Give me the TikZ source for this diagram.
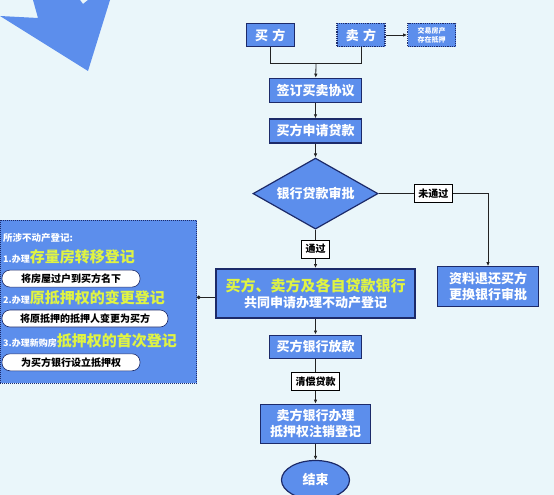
\documentclass[tikz,border=0pt]{standalone}
\usepackage{fontspec}
\setmainfont{Noto Sans CJK SC}
\usepackage{xcolor}
\usepackage{tikz}
\usetikzlibrary{shapes}
\usetikzlibrary{shapes.geometric}
\usetikzlibrary{positioning, fit, arrows.meta}

\definecolor{boxblue}{RGB}{92,142,236}
\definecolor{boxline}{RGB}{28,42,105}
\definecolor{hilite}{RGB}{224,244,66}
\definecolor{bgcyan}{RGB}{234,246,250}
\definecolor{wire}{RGB}{35,35,35}

\tikzset{
  flowbox/.style={draw=boxline, line width=1.2pt, fill=boxblue, text=white, font=\bfseries\fontsize{13}{16}\selectfont, align=center, inner sep=0pt},
  tagbox/.style={draw=black, line width=0.6pt, fill=white, text=black, font=\bfseries\fontsize{10}{12}\selectfont, inner xsep=4pt, inner ysep=0pt, minimum height=18pt},
  pillbox/.style={draw=boxline, line width=0.6pt, fill=white, rounded corners=8pt, text=black, font=\bfseries\fontsize{10}{12}\selectfont, minimum height=17pt, inner sep=0pt},
  paneltext/.style={anchor=west, text=white, inner sep=0pt, font=\bfseries\fontsize{9}{11}\selectfont},
  wireline/.style={wire, line width=0.8pt},
}
\newcommand{\bigpart}[1]{{\color{hilite}\fontsize{15}{18}\selectfont #1}}

\begin{document}
\begin{tikzpicture}[x=1pt, y=-1pt, >={Latex[length=4pt,width=3.5pt]}]
\fill[bgcyan] (0,0) rectangle (554,495);
\useasboundingbox (0,0) rectangle (554,495);
\fill[boxblue] (0,16) -- (38,18) -- (33,0) -- (80,0) -- (83,4) -- (88,0) -- (110,0) -- (88,71) -- cycle;

\node[flowbox, minimum width=48pt, minimum height=23.5pt] (buyer) at (270.3,35) {买\,\,方};
\node[flowbox, densely dotted, minimum width=48pt, minimum height=23.5pt] (seller) at (361,35) {卖\,\,方};
\node[flowbox, densely dotted, minimum width=48pt, minimum height=23.5pt, font=\bfseries\fontsize{7}{9}\selectfont] (note) [right=21.5pt of seller] {交易房产\\存在抵押};
\node[flowbox, minimum width=92pt, minimum height=24pt] (sign) at (315.5,90.3) {签订买卖协议};
\node[flowbox, minimum width=92pt, minimum height=24pt] (apply) [below=15.4pt of sign] {买方申请贷款};
\node[flowbox, diamond, aspect=1.7, minimum width=125pt, minimum height=71pt] (approve) [below=14pt of apply] {银行贷款审批};
\node[flowbox, line width=1.5pt, minimum width=199pt, minimum height=49.3pt] (joint) [below=38.3pt of approve] {\bigpart{买方、卖方及各自贷款银行}\\共同申请办理不动产登记};
\node[flowbox, minimum width=92pt, minimum height=23.3pt] (loan) [below=15.7pt of joint] {买方银行放款};
\node[flowbox, minimum width=110pt, minimum height=39pt] (cancel) [below=44.7pt of loan] {卖方银行办理\\抵押权注销登记};
\node[flowbox, ellipse, minimum width=68pt, minimum height=39pt] (finish) [below=16pt of cancel] {结束};
\node[flowbox, minimum width=100.6pt, minimum height=40pt] (refund) at (488,286.7) {资料退还买方\\更换银行审批};

\node[fill=boxblue, draw=boxline, densely dotted, line width=1pt, minimum width=196.5pt, minimum height=163.3pt, inner sep=0pt] (info_panel) at (98.25,301.7) {};
\node[paneltext, font=\bfseries\fontsize{9.5}{11}\selectfont] (info_title) at (3,238) {所涉不动产登记:};
\node[paneltext] (info_one) at (3,257) {1.办理\bigpart{存量房转移登记}};
\node[pillbox, minimum width=138pt] (pill_one) at (71,278.6) {将房屋过户到买方名下};
\node[paneltext] (info_two) at (3,298) {2.办理\bigpart{原抵押权的变更登记}};
\node[pillbox, minimum width=166pt] (pill_two) at (85,318.5) {将原抵押的抵押人变更为买方};
\node[paneltext] (info_three) at (3,341) {3.办理新购房\bigpart{抵押权的首次登记}};
\node[pillbox, minimum width=138pt] (pill_three) at (71,362.3) {为买方银行设立抵押权};

\coordinate (merge) at (316,63.3);
\draw[wireline] (buyer) |- (merge);
\draw[wireline] (seller) |- (merge);
\draw[wireline, ->] (merge) -- (sign);
\draw[wireline, ->] (seller) -- (note);
\draw[wireline, ->] (sign) -- (apply);
\draw[wireline, ->] (apply) -- (approve);
\draw[wireline, ->] (approve) -- node[tagbox] {通过} (joint);
\draw[wireline, ->] (approve) -| node[tagbox, pos=0.25] {未通过} (refund);
\draw[wireline, ->] (joint) -- (loan);
\draw[wireline, ->] (loan) -- node[tagbox] {清偿贷款} (cancel);
\draw[wireline, ->] (cancel) -- (finish);
\draw[wireline, -{Circle[length=3.5pt]}] ([yshift=-4pt]joint.west) -- ([yshift=-4pt]joint.west -| info_panel.east);
\end{tikzpicture}
\end{document}
